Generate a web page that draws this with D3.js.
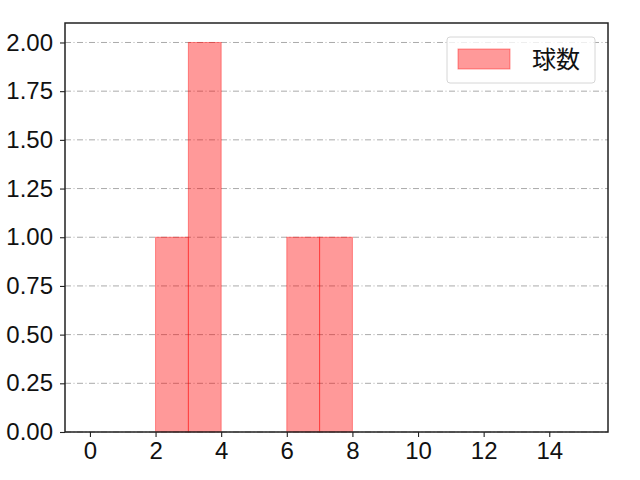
<!DOCTYPE html>
<html>
<head>
<meta charset="utf-8">
<script src="https://d3js.org/d3.v7.min.js"></script>
<style>
  body { margin: 0; background: #fff; }
  text { font-family: "Noto Sans CJK JP", "DejaVu Sans", sans-serif; }
</style>
</head>
<body>
<div id="chart"></div>
<script>
// histogram bins (edges) and counts
var binStarts = [2, 3, 6, 7];
var binEnds = [3, 4, 7, 8];
var counts = [1, 2, 1, 1];
var xTicks = [0, 2, 4, 6, 8, 10, 12, 14];
var yTicks = [0, 0.25, 0.5, 0.75, 1.0, 1.25, 1.5, 1.75, 2.0];
var seriesName = "球数";

var W = 640, H = 480;
var margin = {top: 23, right: 32, bottom: 48, left: 65};
var width = W - margin.left - margin.right,
    height = H - margin.top - margin.bottom;

var svg = d3.select("#chart").append("svg")
    .attr("width", W).attr("height", H);
var g = svg.append("g")
    .attr("transform", "translate(" + margin.left + "," + margin.top + ")");

var x = d3.scaleLinear().domain([-0.76, 15.79]).range([0, width]);
var y = d3.scaleLinear().domain([0, 2.1]).range([height, 0]);

// grid
g.append("g").selectAll("line").data(yTicks).enter().append("line")
    .attr("x1", 0).attr("x2", width)
    .attr("y1", function(d) { return y(d); })
    .attr("y2", function(d) { return y(d); })
    .style("stroke", "#aaaaaa")
    .style("stroke-width", 1)
    .style("stroke-dasharray", "6,2.5,1,2.5");

// bars
var bars = binStarts.map(function(s, i) { return {x0: s, x1: binEnds[i], n: counts[i]}; });
g.append("g").selectAll("rect").data(bars).enter().append("rect")
    .attr("x", function(d) { return x(d.x0); })
    .attr("y", function(d) { return y(d.n); })
    .attr("width", function(d) { return x(d.x1) - x(d.x0); })
    .attr("height", function(d) { return y(0) - y(d.n); })
    .style("fill", "rgba(255,0,0,0.4)")
    .style("stroke", "rgba(255,0,0,0.4)")
    .style("stroke-width", 1);

// axes
var xAxis = g.append("g")
    .attr("transform", "translate(0," + height + ")")
    .call(d3.axisBottom(x).tickValues(xTicks).tickSize(5).tickPadding(5).tickFormat(d3.format("d")));
var yAxis = g.append("g")
    .call(d3.axisLeft(y).tickValues(yTicks).tickSize(5).tickPadding(7).tickFormat(d3.format(".2f")));
[xAxis, yAxis].forEach(function(a) {
  a.select(".domain").remove();
  a.selectAll("line").style("stroke", "#222").style("stroke-width", 1.1);
  a.selectAll("text").style("font-size", "24px").style("fill", "#111")
    .style("font-family", "'Liberation Sans', sans-serif");
});

// frame
g.append("rect")
    .attr("width", width).attr("height", height)
    .style("fill", "none").style("stroke", "#222").style("stroke-width", 1.5);

// legend
var lg = g.append("g").attr("transform", "translate(" + (447 - margin.left) + "," + (37 - margin.top) + ")");
lg.append("rect")
    .attr("width", 148).attr("height", 46).attr("rx", 3)
    .style("fill", "rgba(255,255,255,0.8)").style("stroke", "#d6d6d6");
lg.append("rect")
    .attr("x", 11).attr("y", 12).attr("width", 52).attr("height", 20)
    .style("fill", "rgba(255,0,0,0.4)").style("stroke", "rgba(255,0,0,0.4)");
lg.append("text")
    .attr("x", 85).attr("y", 31)
    .style("font-size", "24px").style("fill", "#111")
    .text(seriesName);
</script>
</body>
</html>
